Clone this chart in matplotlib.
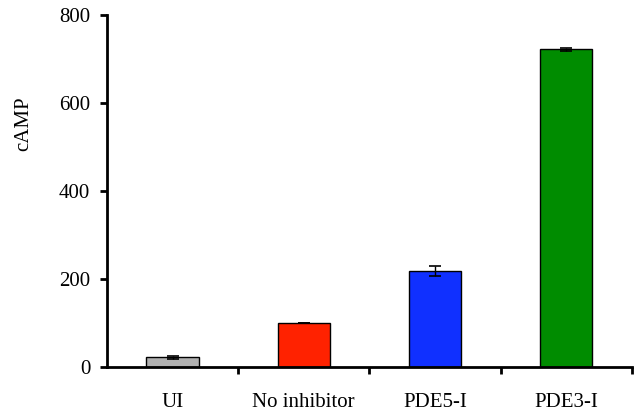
import matplotlib
matplotlib.use('Agg')
import matplotlib.pyplot as plt
import numpy as np

categories = ['UI', 'No inhibitor', 'PDE5-I', 'PDE3-I']
values = [22, 100, 218, 722]
errors = [4, 1, 12, 3]
colors = ['#b0b0b0', '#ff2200', '#1030ff', '#008c00']

plt.rcParams['font.family'] = ['Liberation Serif', 'DejaVu Serif']

fig = plt.figure(figsize=(6.35, 4.15), dpi=100)
ax = fig.add_axes([0.1685, 0.1157, 0.8265, 0.8483])

x = np.arange(len(categories)) + 0.5
ax.bar(x, values, width=0.4, color=colors, edgecolor='black', linewidth=1,
       yerr=errors, error_kw=dict(ecolor='black', elinewidth=1, capsize=4, capthick=1.2))

ax.set_xlim(0, 4)
ax.set_ylim(0, 800)
ax.set_yticks([0, 200, 400, 600, 800])
ax.set_xticks([1, 2, 3, 4])
ax.set_xticklabels([])
ax.set_xticks(x, minor=True)
ax.set_xticklabels(categories, minor=True)
ax.tick_params(axis='x', which='minor', length=0, pad=19, labelsize=15)
ax.tick_params(axis='x', which='major', direction='out', length=5, width=2)
ax.tick_params(axis='y', direction='out', length=5, width=2, labelsize=15, pad=7)

for s in ['top', 'right']:
    ax.spines[s].set_visible(False)
for s in ['left', 'bottom']:
    ax.spines[s].set_linewidth(2)

ax.set_ylabel('cAMP', fontsize=15)
ax.yaxis.set_label_coords(-0.14, 0.69)

fig.savefig('out.png', dpi=100)
